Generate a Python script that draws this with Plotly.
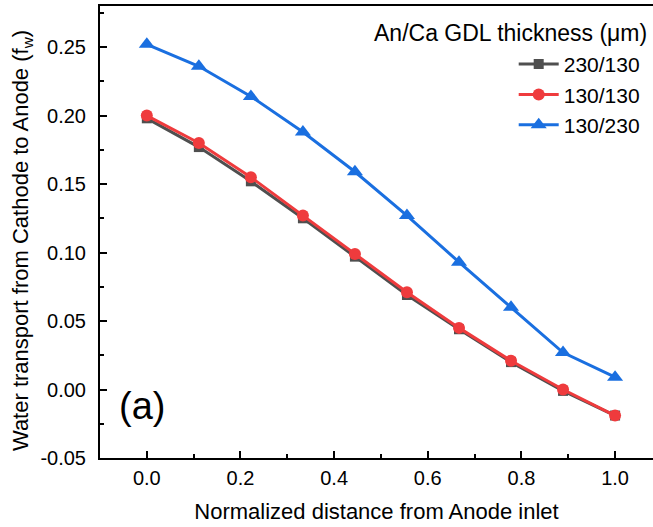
import plotly.graph_objects as go

# Normalized distance along the channel (10 evenly spaced stations)
distance = [0.0, 1/9, 2/9, 3/9, 4/9, 5/9, 6/9, 7/9, 8/9, 1.0]

# Water transport fraction f_w for each anode/cathode GDL thickness pair
fw_230_130 = [0.198, 0.177, 0.152, 0.125, 0.097, 0.069, 0.044, 0.020, -0.001, -0.019]
fw_130_130 = [0.200, 0.180, 0.155, 0.127, 0.099, 0.071, 0.045, 0.021, 0.000, -0.019]
fw_130_230 = [0.252, 0.236, 0.214, 0.188, 0.159, 0.127, 0.093, 0.060, 0.027, 0.009]

series_names = ["230/130", "130/130", "130/230"]
colors = ["#4f4f4f", "#ef3b3d", "#1a6fe0"]
symbols = ["square", "circle", "triangle-up"]
sizes = [10, 12, 14]

FONT = "Liberation Sans, Arial, sans-serif"

fig = go.Figure()
for name, ys, c, s, sz in zip(series_names, [fw_230_130, fw_130_130, fw_130_230],
                              colors, symbols, sizes):
    fig.add_trace(go.Scatter(
        x=distance, y=ys, name=name, mode="lines+markers",
        line=dict(color=c, width=3),
        marker=dict(symbol=s, size=sz, color=c),
    ))

fig.update_layout(
    width=653, height=527,
    margin=dict(l=100, r=0, t=6, b=69),
    paper_bgcolor="white", plot_bgcolor="white",
    font=dict(family=FONT, size=20, color="black"),
    showlegend=True,
    legend=dict(
        x=0.985, y=0.916, xanchor="right", yanchor="top",
        bgcolor="rgba(0,0,0,0)", font=dict(size=21),
        itemwidth=40, tracegroupgap=0,
    ),
    annotations=[
        dict(text="An/Ca GDL thickness (\u03bcm)", xref="paper", yref="paper",
             x=0.992, y=0.94, xanchor="right", yanchor="middle", showarrow=False,
             font=dict(size=23)),
        dict(text="(a)", xref="paper", yref="paper",
             x=0.03, y=0.065, xanchor="left", yanchor="bottom", showarrow=False,
             font=dict(size=38)),
        dict(text="Water transport from Cathode to Anode (f<sub>w</sub>)",
             xref="paper", yref="paper", x=-0.141, y=0.48,
             xanchor="center", yanchor="middle", textangle=-90, showarrow=False,
             font=dict(size=22)),
    ],
)

fig.update_xaxes(
    range=[-0.1, 1.081], tickmode="array",
    tickvals=[0.0, 0.2, 0.4, 0.6, 0.8, 1.0],
    ticktext=["0.0", "0.2", "0.4", "0.6", "0.8", "1.0"],
    ticks="inside", ticklen=7, tickwidth=1.5, tickcolor="black",
    minor=dict(dtick=0.1, tick0=0, ticks="inside", ticklen=4, tickwidth=1.5, tickcolor="black"),
    showline=True, linewidth=2, linecolor="black", mirror=True,
    showgrid=False, zeroline=False,
    ticklabelstandoff=1,
    title=dict(text="Normalized distance from Anode inlet", font=dict(size=22), standoff=16),
)
fig.update_yaxes(
    range=[-0.05, 0.28], tickmode="array",
    tickvals=[-0.05, 0.0, 0.05, 0.10, 0.15, 0.20, 0.25],
    ticktext=["-0.05", "0.00", "0.05", "0.10", "0.15", "0.20", "0.25"],
    ticks="inside", ticklen=7, tickwidth=1.5, tickcolor="black",
    minor=dict(dtick=0.025, tick0=0, ticks="inside", ticklen=4, tickwidth=1.5, tickcolor="black"),
    showline=True, linewidth=2, linecolor="black",
    showgrid=False, zeroline=False,
    ticklabelstandoff=8,
)

fig.write_html("out.html")
